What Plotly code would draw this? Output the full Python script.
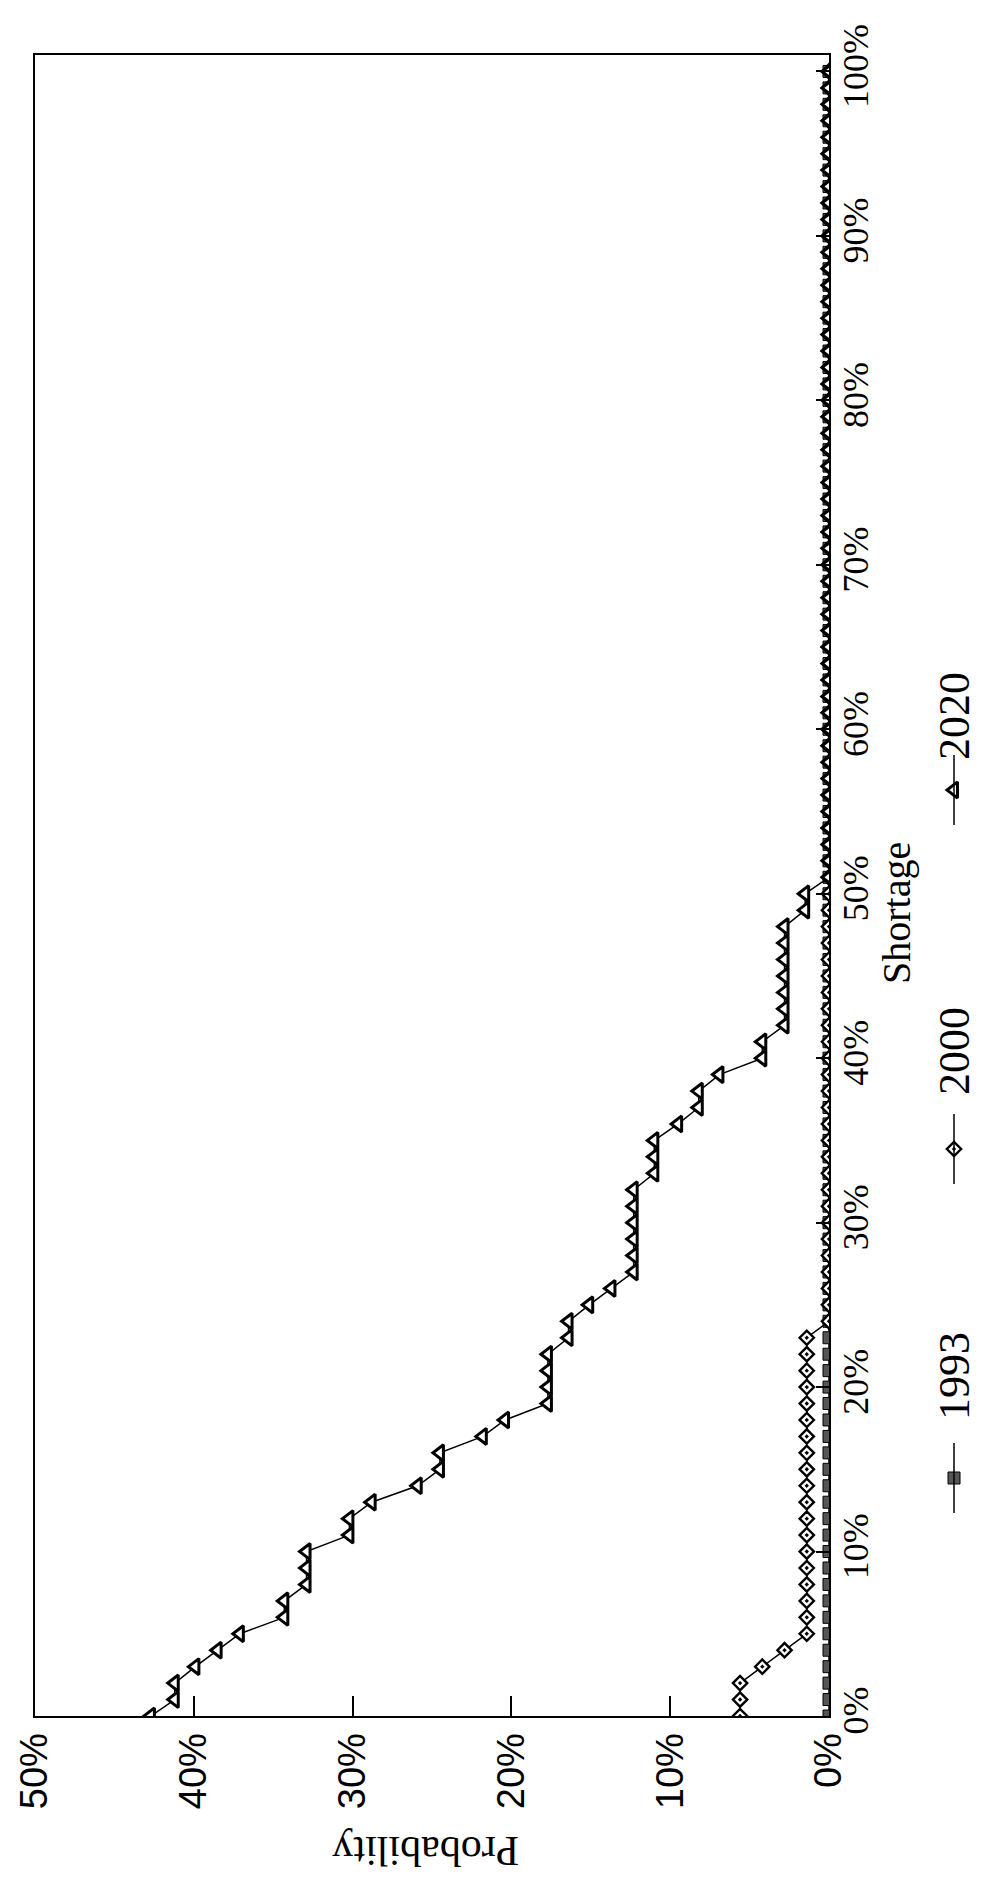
import plotly.graph_objects as go

# Shortage categories (percent)
shortage = list(range(0, 101))

# Probability (percent) of each shortage level
p1993 = [0, 0, 0, 0, 0, 0, 0, 0, 0, 0,
         0, 0, 0, 0, 0, 0, 0, 0, 0, 0,
         0, 0, 0, 0, 0, 0, 0, 0, 0, 0,
         0, 0, 0, 0, 0, 0, 0, 0, 0, 0,
         0, 0, 0, 0, 0, 0, 0, 0, 0, 0,
         0, 0, 0, 0, 0, 0, 0, 0, 0, 0,
         0, 0, 0, 0, 0, 0, 0, 0, 0, 0,
         0, 0, 0, 0, 0, 0, 0, 0, 0, 0,
         0, 0, 0, 0, 0, 0, 0, 0, 0, 0,
         0, 0, 0, 0, 0, 0, 0, 0, 0, 0,
         0]

p2000 = [5.6, 5.6, 5.6, 4.2, 2.8, 1.4, 1.4, 1.4, 1.4, 1.4,
         1.4, 1.4, 1.4, 1.4, 1.4, 1.4, 1.4, 1.4, 1.4, 1.4,
         1.4, 1.4, 1.4, 1.4, 0, 0, 0, 0, 0, 0,
         0, 0, 0, 0, 0, 0, 0, 0, 0, 0,
         0, 0, 0, 0, 0, 0, 0, 0, 0, 0,
         0, 0, 0, 0, 0, 0, 0, 0, 0, 0,
         0, 0, 0, 0, 0, 0, 0, 0, 0, 0,
         0, 0, 0, 0, 0, 0, 0, 0, 0, 0,
         0, 0, 0, 0, 0, 0, 0, 0, 0, 0,
         0, 0, 0, 0, 0, 0, 0, 0, 0, 0,
         0]

p2020 = [42.7, 41.2, 41.2, 39.9, 38.5, 37.1, 34.3, 34.3, 32.9, 32.9,
         32.9, 30.2, 30.2, 28.8, 25.9, 24.5, 24.5, 21.8, 20.4, 17.7,
         17.7, 17.7, 17.7, 16.4, 16.4, 15.1, 13.7, 12.3, 12.3, 12.3,
         12.3, 12.3, 12.3, 11.0, 11.0, 11.0, 9.5, 8.2, 8.2, 6.9,
         4.2, 4.2, 2.8, 2.8, 2.8, 2.8, 2.8, 2.8, 2.8, 1.5,
         1.5, 0, 0, 0, 0, 0, 0, 0, 0, 0,
         0, 0, 0, 0, 0, 0, 0, 0, 0, 0,
         0, 0, 0, 0, 0, 0, 0, 0, 0, 0,
         0, 0, 0, 0, 0, 0, 0, 0, 0, 0,
         0, 0, 0, 0, 0, 0, 0, 0, 0, 0,
         0]

series_names = ["1993", "2000", "2020"]
prob_ticks = [0, 10, 20, 30, 40, 50]
prob_labels = ["0%", "10%", "20%", "30%", "40%", "50%"]
short_ticks = [0, 10, 20, 30, 40, 50, 60, 70, 80, 90, 100]
short_labels = ["0%", "10%", "20%", "30%", "40%", "50%", "60%", "70%", "80%", "90%", "100%"]

W, H = 996, 1880
PL, PR, PT, PB = 27, 821, 47, 1708   # plot-area frame in pixels
SERIF = "Liberation Serif, Times New Roman, serif"
SANS = "Liberation Sans, Arial, sans-serif"

styles = {
    "1993": dict(symbol="square", size=12, color="#555555", line=dict(color="black", width=1)),
    "2000": dict(symbol="diamond-dot", size=11, color="white", line=dict(color="black", width=2.4)),
    "2020": dict(symbol="triangle-left", size=14, color="white", line=dict(color="black", width=3)),
}
values = {"1993": p1993, "2000": p2000, "2020": p2020}

fig = go.Figure()
# chart is drawn rotated: probability runs horizontally (right to left), shortage vertically
for name in series_names:
    fig.add_trace(go.Scatter(
        x=values[name], y=shortage, mode="lines+markers", name=name,
        line=dict(color="black", width=1.5),
        marker=styles[name], showlegend=False,
    ))

# rotated legend, laid out on a pixel-based overlay axis pair covering the page
leg_x = 946
leg_sample_y = {"1993": 1470, "2000": 1141, "2020": 782}
leg_text_y = {"1993": 1368, "2000": 1043, "2020": 708}
for name in series_names:
    y0 = leg_sample_y[name]
    fig.add_shape(type="line", xref="x2", yref="y2", x0=leg_x, x1=leg_x,
                  y0=y0 - 35, y1=y0 + 35, line=dict(color="black", width=1.5))
    fig.add_trace(go.Scatter(x=[leg_x], y=[y0], xaxis="x2", yaxis="y2", mode="markers",
                             marker=styles[name], showlegend=False))
    fig.add_annotation(x=leg_x, y=leg_text_y[name], xref="x2", yref="y2", text=name,
                       textangle=-90, showarrow=False,
                       font=dict(family=SERIF, size=44, color="black"))

fig.add_annotation(x=418, y=1843, xref="x2", yref="y2", text="Probability",
                   textangle=180, showarrow=False,
                   font=dict(family=SERIF, size=42, color="black"))
fig.add_annotation(x=888, y=905, xref="x2", yref="y2", text="Shortage",
                   textangle=-90, showarrow=False,
                   font=dict(family=SERIF, size=40, color="black"))

fig.update_layout(
    width=W, height=H,
    margin=dict(l=0, r=0, t=0, b=0),
    paper_bgcolor="white", plot_bgcolor="rgba(0,0,0,0)",
    showlegend=False,
    xaxis=dict(domain=[PL / W, PR / W], anchor="y", automargin=False,
               range=[50, 0], tickvals=prob_ticks, ticktext=prob_labels, tickangle=-90,
               ticks="inside", ticklen=20, tickwidth=1.5, tickcolor="black",
               showline=True, linecolor="black", linewidth=2, mirror=True,
               showgrid=False, zeroline=False, ticklabelstandoff=0,
               tickfont=dict(family=SANS, size=38, color="black")),
    yaxis=dict(domain=[(H - PB) / H, (H - PT) / H], anchor="x", automargin=False,
               range=[0, 101], side="right", tickvals=short_ticks, ticktext=short_labels,
               tickangle=-90, ticks="inside", ticklen=13, tickwidth=1.5, tickcolor="black",
               showline=True, linecolor="black", linewidth=2, mirror=True,
               showgrid=False, zeroline=False, ticklabelstandoff=-6,
               tickfont=dict(family=SERIF, size=36, color="black")),
    xaxis2=dict(domain=[0, 1], anchor="y2", range=[0, W], visible=False, automargin=False),
    yaxis2=dict(domain=[0, 1], anchor="x2", range=[H, 0], visible=False, automargin=False),
)

fig.write_html("out.html")
